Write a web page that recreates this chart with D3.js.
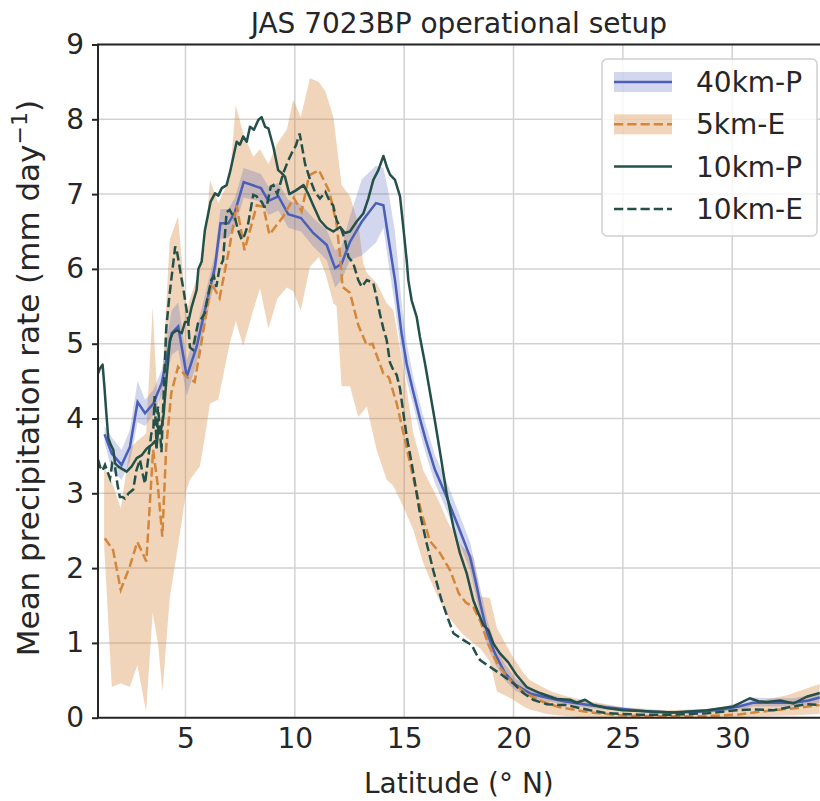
<!DOCTYPE html>
<html><head><meta charset="utf-8">
<script src="https://cdn.jsdelivr.net/npm/d3@7"></script>
<style>body{margin:0;background:#fff} text{font-family:"DejaVu Sans",sans-serif;fill:#262626}</style>
</head><body><svg id="c" width="820" height="801"></svg>
<script>
// ---------------- data ----------------
const xTicks = [5, 10, 15, 20, 25, 30];
const yTicks = [0, 1, 2, 3, 4, 5, 6, 7, 8, 9];
const seriesNames = ["40km-P", "5km-E", "10km-P", "10km-E"];

// 40km-P mean [lat, value]
const p40 = [[1.3,3.79],[1.63,3.53],[2.08,3.38],[2.46,3.62],[2.81,4.22],[3.15,4.07],[3.53,4.20],[3.91,4.47],[4.37,5.14],[4.67,5.23],[5.06,4.56],[5.51,4.96],[5.89,5.45],[6.35,6.03],[6.6,6.61],[6.96,6.61],[7.26,6.76],[7.66,7.16],[8.45,7.08],[8.79,6.91],[9.25,6.97],[9.7,6.73],[10.28,6.68],[10.84,6.48],[11.46,6.32],[11.84,6.01],[12.14,6.07],[12.52,6.36],[13.06,6.63],[13.71,6.88],[14.05,6.85],[14.27,6.43],[14.58,5.85],[14.88,5.14],[15.12,4.72],[15.42,4.35],[15.72,4.0],[15.98,3.72],[16.4,3.32],[16.9,2.98],[17.55,2.5],[18.01,2.15],[18.24,1.86],[18.5,1.5],[18.8,1.13],[19.15,0.86],[19.6,0.6],[20.1,0.44],[20.8,0.32],[21.5,0.27],[22.3,0.22],[23.2,0.18],[24.2,0.14],[25.2,0.11],[26.3,0.08],[27.3,0.07],[28.5,0.08],[29.5,0.11],[30.3,0.15],[30.95,0.20],[31.9,0.20],[32.8,0.20],[33.5,0.23],[34.0,0.27]];
// 40km-P spread [lat, low, high]
const p40band = [[1.3,3.68,3.9],[1.63,3.3,3.75],[2.08,3.18,3.58],[2.46,3.42,3.85],[2.81,3.95,4.5],[3.15,3.9,4.25],[3.53,4.05,4.38],[3.91,4.3,4.65],[4.37,4.85,5.45],[4.67,4.92,5.55],[5.06,4.3,4.78],[5.51,4.75,5.2],[5.89,5.25,5.65],[6.35,5.85,6.2],[6.6,6.4,6.8],[6.96,6.42,6.8],[7.26,6.55,6.95],[7.66,6.95,7.35],[8.45,6.9,7.27],[8.79,6.72,7.1],[9.25,6.78,7.15],[9.7,6.55,6.92],[10.28,6.5,6.86],[10.84,6.3,6.68],[11.46,6.12,6.52],[11.84,5.75,6.25],[12.14,5.85,6.3],[12.52,6.12,6.7],[13.06,6.18,7.2],[13.71,6.35,7.38],[14.05,6.55,7.35],[14.27,6.1,7.05],[14.58,5.5,6.5],[14.88,4.85,5.55],[15.12,4.5,5.0],[15.42,4.17,4.55],[15.72,3.82,4.2],[15.98,3.54,3.92],[16.4,3.14,3.52],[16.9,2.8,3.18],[17.55,2.32,2.7],[18.01,1.97,2.35],[18.24,1.68,2.05],[18.5,1.33,1.7],[18.8,0.97,1.3],[19.15,0.72,1.0],[19.6,0.5,0.72],[20.1,0.36,0.52],[20.8,0.26,0.38],[21.5,0.22,0.32],[22.3,0.18,0.26],[23.2,0.14,0.22],[24.2,0.11,0.17],[25.2,0.09,0.13],[26.3,0.06,0.1],[27.3,0.05,0.09],[28.5,0.06,0.1],[29.5,0.08,0.14],[30.3,0.11,0.2],[30.95,0.15,0.27],[31.9,0.15,0.26],[32.8,0.15,0.26],[33.5,0.17,0.3],[34.0,0.2,0.34]];

// 5km-E mean
const e5 = [[1.31,2.40],[1.69,2.24],[2.04,1.71],[2.45,2.02],[2.80,2.35],[3.21,2.09],[3.52,3.58],[3.74,3.09],[3.94,2.42],[4.12,3.62],[4.35,4.34],[4.66,4.69],[5.04,4.56],[5.42,4.49],[5.72,5.0],[6.18,5.81],[6.56,5.61],[7.02,6.3],[7.34,6.85],[7.7,6.25],[8.26,6.85],[8.56,6.83],[8.84,6.46],[9.47,6.7],[9.95,6.95],[10.31,6.77],[10.65,7.25],[11.1,7.32],[11.57,7.04],[11.91,6.6],[12.06,6.2],[12.18,5.76],[12.52,5.68],[12.9,5.25],[13.29,4.98],[13.55,5.0],[14.05,4.6],[14.3,4.55],[14.66,4.2],[15.0,3.76],[15.42,3.2],[15.8,2.73],[16.18,2.36],[16.64,2.2],[17.1,1.97],[17.5,1.66],[17.82,1.54],[18.16,1.48],[18.5,1.28],[18.85,0.98],[19.3,0.7],[19.92,0.48],[20.6,0.32],[21.36,0.21],[22.1,0.14],[23.5,0.07],[25.0,0.03],[26.5,0.02],[28.5,0.02],[30.2,0.04],[31.0,0.07],[31.9,0.1],[33.0,0.13],[34.0,0.17]];
// 5km-E spread [lat, low, high]
const e5band = [[1.28,2.3,3.35],[1.63,0.41,3.15],[2.04,0.46,2.8],[2.45,0.41,3.6],[2.8,0.7,3.7],[3.2,0.08,3.8],[3.5,1.4,5.49],[3.74,1.0,4.1],[3.95,0.35,4.6],[4.28,1.6,6.39],[4.66,2.3,6.7],[5.04,3.04,5.41],[5.2,3.18,5.6],[5.66,3.36,6.0],[5.89,3.76,6.3],[6.12,4.2,7.19],[6.5,4.25,6.88],[7.02,5.0,7.2],[7.3,5.3,8.19],[7.64,4.97,7.81],[8.1,5.45,7.5],[8.41,5.74,7.6],[8.79,5.2,7.4],[9.2,5.6,7.68],[9.63,5.75,7.86],[9.93,5.7,8.26],[10.27,5.44,8.03],[10.69,6.03,8.55],[11.1,6.16,8.5],[11.4,5.94,8.37],[11.76,5.54,8.03],[11.91,5.5,7.68],[12.14,4.43,7.12],[12.52,4.43,6.97],[12.9,4.02,6.61],[13.13,4.1,6.07],[13.29,4.16,5.95],[13.74,3.58,5.81],[14.2,3.18,5.54],[14.5,3.1,5.45],[14.96,2.82,4.69],[15.42,2.51,3.8],[15.88,2.06,3.3],[16.18,1.85,3.13],[16.56,1.6,2.91],[17.02,1.35,2.6],[17.63,1.13,2.3],[18.16,1.0,2.15],[18.5,0.92,1.62],[18.92,0.75,1.6],[19.24,0.35,1.2],[19.99,0.24,0.8],[20.45,0.15,0.6],[20.75,0.11,0.5],[21.52,0.05,0.38],[21.82,0.04,0.34],[22.5,0.02,0.28],[23.5,0.0,0.22],[25,0.0,0.14],[27,0.0,0.1],[29,0.0,0.12],[30.5,0.01,0.18],[31.5,0.02,0.24],[32.5,0.03,0.3],[33.3,0.04,0.38],[34,0.05,0.45]];

// 10km-P
const p10 = [[1.0,4.6],[1.09,4.67],[1.21,4.72],[1.3,4.4],[1.37,4.11],[1.47,3.74],[1.58,3.65],[1.70,3.58],[1.78,3.40],[1.92,3.36],[2.08,3.33],[2.31,3.29],[2.54,3.36],[2.77,3.47],[3.0,3.51],[3.23,3.6],[3.46,3.65],[3.62,3.7],[3.68,3.62],[3.76,3.89],[3.86,3.82],[3.99,4.02],[4.14,4.56],[4.29,5.05],[4.41,5.14],[4.6,5.18],[4.83,5.14],[4.98,5.29],[5.13,5.29],[5.28,5.49],[5.51,5.72],[5.59,6.0],[5.74,6.1],[5.89,6.52],[6.15,6.9],[6.35,7.01],[6.5,6.98],[6.66,7.08],[6.88,7.12],[7.04,7.3],[7.19,7.5],[7.34,7.7],[7.49,7.66],[7.64,7.77],[7.8,7.7],[7.95,7.9],[8.13,7.86],[8.33,7.99],[8.48,8.03],[8.64,7.9],[8.79,7.88],[9.02,7.63],[9.24,7.32],[9.4,7.28],[9.55,7.23],[9.75,7.0],[10.05,7.05],[10.4,7.12],[10.6,7.01],[10.84,6.85],[11.15,6.65],[11.46,6.55],[11.76,6.5],[12.07,6.56],[12.29,6.48],[12.52,6.5],[12.82,6.63],[13.13,6.74],[13.36,6.94],[13.59,7.19],[13.82,7.32],[14.05,7.51],[14.2,7.37],[14.35,7.26],[14.58,7.19],[14.81,6.97],[14.96,6.56],[15.12,6.1],[15.19,5.85],[15.34,5.58],[15.57,5.36],[15.72,5.09],[15.95,4.74],[16.18,4.35],[16.41,3.96],[16.64,3.55],[16.94,3.0],[17.25,2.55],[17.55,2.2],[17.86,1.93],[18.16,1.57],[18.39,1.40],[18.62,1.24],[18.85,1.17],[19.08,0.99],[19.38,0.86],[19.76,0.74],[20.14,0.57],[20.6,0.41],[21.2,0.33],[21.97,0.25],[22.58,0.24],[22.89,0.2],[23.27,0.24],[23.65,0.17],[24.26,0.13],[25.0,0.1],[25.8,0.09],[27.3,0.07],[28.85,0.1],[30.05,0.15],[30.8,0.26],[31.2,0.22],[31.57,0.21],[32.2,0.23],[32.8,0.19],[33.4,0.28],[34.0,0.33]];

// 10km-E
const e10 = [[1.0,3.45],[1.1,3.35],[1.2,3.3],[1.32,3.38],[1.42,3.3],[1.55,3.2],[1.65,3.4],[1.78,3.35],[1.9,3.1],[2.0,2.95],[2.12,2.95],[2.23,2.93],[2.4,3.0],[2.61,3.05],[2.75,3.3],[2.92,3.45],[3.05,3.25],[3.15,3.13],[3.29,3.45],[3.44,3.8],[3.53,3.85],[3.59,4.3],[3.68,3.6],[3.74,4.16],[3.82,3.9],[3.9,3.55],[4.0,4.3],[4.12,5.2],[4.25,5.6],[4.35,5.85],[4.53,6.3],[4.6,6.25],[4.69,6.1],[4.8,5.9],[4.9,5.74],[5.12,5.32],[5.2,4.95],[5.34,4.92],[5.45,5.1],[5.57,5.27],[5.7,5.32],[5.88,5.41],[6.0,5.6],[6.18,5.85],[6.3,5.9],[6.41,5.76],[6.55,6.0],[6.72,6.12],[6.88,6.76],[7.02,6.79],[7.11,6.74],[7.25,6.7],[7.4,6.52],[7.57,6.39],[7.7,6.45],[7.85,6.58],[8.1,6.99],[8.26,6.97],[8.33,6.92],[8.48,6.9],[8.6,6.83],[8.71,6.83],[8.9,7.1],[9.02,7.12],[9.2,7.0],[9.47,7.28],[9.7,7.45],[9.86,7.55],[10.05,7.65],[10.22,7.81],[10.35,7.6],[10.47,7.4],[10.69,7.2],[10.92,7.03],[11.15,6.94],[11.4,7.03],[11.6,6.9],[11.75,6.85],[11.91,6.65],[12.14,6.52],[12.29,6.39],[12.45,6.16],[12.67,6.08],[12.9,5.85],[13.06,5.76],[13.29,5.85],[13.45,5.83],[13.59,5.81],[13.75,5.6],[13.89,5.4],[14.05,5.2],[14.2,5.05],[14.35,4.75],[14.5,4.65],[14.66,4.58],[14.81,4.4],[14.96,4.08],[15.12,3.75],[15.25,3.55],[15.42,3.27],[15.72,2.73],[16.03,2.33],[16.33,1.97],[16.71,1.57],[17.02,1.31],[17.25,1.13],[17.5,1.08],[17.7,1.04],[18.09,0.97],[18.3,0.85],[18.47,0.77],[18.92,0.68],[19.38,0.59],[19.99,0.46],[20.45,0.33],[20.9,0.24],[21.52,0.18],[22.1,0.17],[22.43,0.17],[23.0,0.13],[23.5,0.1],[24.26,0.06],[25.8,0.04],[27.3,0.04],[28.85,0.06],[30.2,0.1],[31.0,0.11],[31.9,0.1],[32.8,0.15],[33.4,0.18],[34.0,0.17]];

// ---------------- drawing ----------------
const svg = d3.select("#c");
const L = 98, R = 819.7, T = 44.5, B = 717.7;
const x = d3.scaleLinear().domain([1, 34]).range([L, R]);
const y = d3.scaleLinear().domain([0, 9]).range([B, T]);

const cBlue = "#4a5fb8", cOrange = "#d4863a", cGreen = "#24504a";

svg.append("defs").append("clipPath").attr("id", "clip")
  .append("rect").attr("x", L).attr("y", T).attr("width", 830 - L).attr("height", B - T);

// grid
const grid = svg.append("g");
grid.selectAll(".gx").data(xTicks).join("line")
  .attr("x1", d => x(d)).attr("x2", d => x(d)).attr("y1", T).attr("y2", B)
  .attr("stroke", "#d2d2d2").attr("stroke-width", 1.5);
grid.selectAll(".gy").data(yTicks).join("line")
  .attr("x1", L).attr("x2", 830).attr("y1", d => y(d)).attr("y2", d => y(d))
  .attr("stroke", "#d2d2d2").attr("stroke-width", 1.5);

const plot = svg.append("g").attr("clip-path", "url(#clip)");
const area = d3.area().x(d => x(d[0])).y0(d => y(d[1])).y1(d => y(d[2]));
const line = d3.line().x(d => x(d[0])).y(d => y(d[1]));

plot.append("path").attr("d", area(e5band)).attr("fill", cOrange).attr("fill-opacity", 0.35);
plot.append("path").attr("d", area(p40band)).attr("fill", cBlue).attr("fill-opacity", 0.25);

plot.append("path").attr("d", line(p40)).attr("fill", "none").attr("stroke", cBlue).attr("stroke-width", 2.5);
plot.append("path").attr("d", line(e5)).attr("fill", "none").attr("stroke", cOrange).attr("stroke-width", 2.5)
  .attr("stroke-dasharray", "9.25,4");
plot.append("path").attr("d", line(p10)).attr("fill", "none").attr("stroke", cGreen).attr("stroke-width", 2.5)
  .attr("stroke-linejoin", "round");
plot.append("path").attr("d", line(e10)).attr("fill", "none").attr("stroke", cGreen).attr("stroke-width", 2.5)
  .attr("stroke-dasharray", "9.25,4");

// spines
svg.append("line").attr("x1", L).attr("x2", L).attr("y1", T).attr("y2", B).attr("stroke", "#262626").attr("stroke-width", 2);
svg.append("line").attr("x1", L - 1).attr("x2", 830).attr("y1", B).attr("y2", B).attr("stroke", "#262626").attr("stroke-width", 2);
svg.append("line").attr("x1", L - 1).attr("x2", 830).attr("y1", T).attr("y2", T).attr("stroke", "#262626").attr("stroke-width", 2);

// axes
const yAxis = d3.axisLeft(y).tickValues(yTicks).tickSize(6).tickPadding(8).tickFormat(d3.format("d"));
const gy = svg.append("g").attr("transform", `translate(${L},0)`).call(yAxis);
gy.select(".domain").remove();
gy.selectAll(".tick line").attr("stroke", "#262626").attr("stroke-width", 2);
gy.selectAll(".tick text").attr("font-size", 28).attr("font-family", "DejaVu Sans").attr("fill", "#262626");

const xAxis = d3.axisBottom(x).tickValues(xTicks).tickSize(0).tickPadding(10).tickFormat(d3.format("d"));
const gx = svg.append("g").attr("transform", `translate(0,${B})`).call(xAxis);
gx.select(".domain").remove();
gx.selectAll(".tick text").attr("font-size", 28).attr("font-family", "DejaVu Sans").attr("fill", "#262626");

// titles
svg.append("text").attr("x", (L + R) / 2).attr("y", 33).attr("text-anchor", "middle")
  .attr("font-size", 28).text("JAS 7023BP operational setup");
svg.append("text").attr("x", (L + R) / 2).attr("y", 793).attr("text-anchor", "middle")
  .attr("font-size", 28).text("Latitude (° N)");
const yl = svg.append("text").attr("transform", `translate(39,${(T + B) / 2 - 3}) rotate(-90)`)
  .attr("text-anchor", "middle").attr("font-size", 31);
yl.append("tspan").text("Mean precipitation rate (mm day");
yl.append("tspan").attr("dy", -12).attr("font-size", 22).text("−1");
yl.append("tspan").attr("dy", 12).text(")");

// legend
const lg = svg.append("g");
lg.append("rect").attr("x", 602).attr("y", 59).attr("width", 215).attr("height", 177).attr("rx", 5)
  .attr("fill", "#fff").attr("fill-opacity", 0.8).attr("stroke", "#d0d0d0").attr("stroke-width", 1.5);
const items = [
  {name: seriesNames[0], color: cBlue, dash: null, patch: 0.25},
  {name: seriesNames[1], color: cOrange, dash: "9.25,4", patch: 0.35},
  {name: seriesNames[2], color: cGreen, dash: null, patch: 0},
  {name: seriesNames[3], color: cGreen, dash: "9.25,4", patch: 0}
];
items.forEach((it, i) => {
  const cy = 82 + i * 42.3;
  if (it.patch) lg.append("rect").attr("x", 614).attr("y", cy - 10).attr("width", 58).attr("height", 20)
    .attr("fill", it.color).attr("fill-opacity", it.patch);
  const ln = lg.append("line").attr("x1", 614).attr("x2", 672).attr("y1", cy).attr("y2", cy)
    .attr("stroke", it.color).attr("stroke-width", 2.5);
  if (it.dash) ln.attr("stroke-dasharray", it.dash);
  lg.append("text").attr("x", 696).attr("y", cy).attr("dy", "0.36em").attr("font-size", 28).text(it.name);
});
</script></body></html>
